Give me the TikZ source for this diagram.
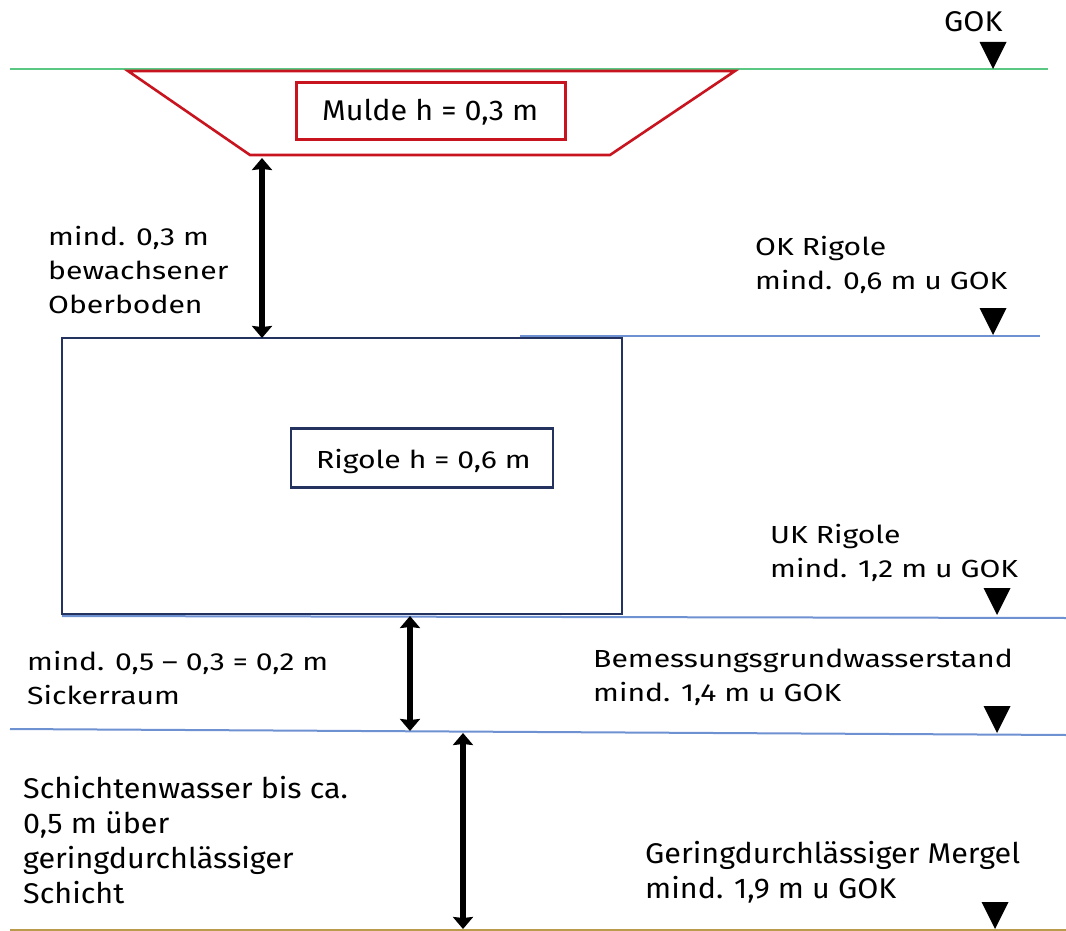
\documentclass[tikz,border=0pt]{standalone}
\usepackage{fontspec}
\setmainfont{Fira Sans}
\newfontfamily\widefnt[FakeStretch=1.22]{Fira Sans}
\newfontfamily\bigfnt[FakeStretch=1.07]{Fira Sans}
\usetikzlibrary{arrows.meta,calc}
\definecolor{gokgreen}{RGB}{90,200,130}
\definecolor{muldered}{RGB}{200,20,30}
\definecolor{lvlblue}{RGB}{110,145,210}
\definecolor{navy}{RGB}{35,50,95}
\definecolor{olive}{RGB}{185,155,75}
\tikzset{
  lbl/.style={anchor=base west,inner sep=0pt,align=left,font=\widefnt\fontsize{24.7}{34}\selectfont},
  clbl/.style={anchor=base west,inner sep=0pt,align=left,font=\bigfnt\fontsize{28.5}{35}\selectfont},
  dimarrow/.style={line width=6.5pt,{Stealth[length=12pt,width=20pt,inset=1pt]}-{Stealth[length=12pt,width=20pt,inset=1pt]}},
  lvlline/.style={lvlblue,line width=2pt},
}
\newcommand{\levelmark}[1]{\fill[black] ($(#1)+(-13.5,-27)$) -- ($(#1)+(13.5,-27)$) -- (#1) -- cycle;}
\begin{document}
\begin{tikzpicture}[x=1pt,y=-1pt]
\useasboundingbox (0,0) rectangle (1066,931);
% ground level
\coordinate (gokL) at (10,69); \coordinate (gokR) at (1048,69);
\draw[gokgreen,line width=2pt] (gokL) -- (gokR);
% Mulde trapezoid
\coordinate (m1) at (128,71); \coordinate (m2) at (735,71);
\coordinate (m3) at (610,155); \coordinate (m4) at (250,155);
\draw[muldered,line width=2.6pt,line join=miter] (m1) -- (m2) -- (m3) -- (m4) -- cycle;
\node[draw=muldered,line width=2.6pt,minimum width=269pt,minimum height=57pt,inner sep=0pt] (mulde) at (431,111) {};
\node[clbl] (muldetxt) at (322,121) {Mulde h = 0,3 m};
% GOK
\node[clbl] (gok) at (944,32) {GOK};
\coordinate (tGOK) at (993,69);
\levelmark{tGOK}
% OK Rigole
\coordinate (okL) at (520,336); \coordinate (okR) at (1040,336);
\draw[lvlline] (okL) -- (okR);
\node[lbl] (oktxt) at (755,289) {OK Rigole\\mind. 0,6 m u GOK};
\coordinate (tOK) at (993,335);
\levelmark{tOK}
% Rigole
\node[draw=navy,line width=2.4pt,minimum width=560pt,minimum height=276pt,inner sep=0pt] (rigole) at (342,476) {};
\node[draw=navy,line width=2.4pt,minimum width=262pt,minimum height=59pt,inner sep=0pt] (riglbl) at (422,458) {};
\node[lbl] (riglbltxt) at (316,468) {Rigole h = 0,6 m};
% UK Rigole
\coordinate (ukL) at (62,616); \coordinate (ukR) at (1066,618);
\draw[lvlline] (ukL) -- (ukR);
\node[lbl] (uktxt) at (770,577) {UK Rigole\\mind. 1,2 m u GOK};
\coordinate (tUK) at (997,615);
\levelmark{tUK}
% Bemessungsgrundwasserstand
\coordinate (bwL) at (10,729); \coordinate (bwR) at (1066,735);
\draw[lvlline] (bwL) -- (bwR);
\node[lbl] (bwtxt) at (593,701) {Bemessungsgrundwasserstand\\mind. 1,4 m u GOK};
\coordinate (tBW) at (997,733);
\levelmark{tBW}
% Mergel
\coordinate (mgL) at (10,930); \coordinate (mgR) at (1066,930);
\draw[olive,line width=2.2pt] (mgL) -- (mgR);
\node[clbl] (mgtxt) at (645,898) {Geringdurchlässiger Mergel\\mind. 1,9 m u GOK};
\coordinate (tMG) at (995,929);
\levelmark{tMG}
% dimension arrows
\coordinate (a1t) at (262,158); \coordinate (a1b) at (262,338);
\draw[dimarrow] (a1t) -- (a1b);
\node[lbl] (obtxt) at (48,313) {mind. 0,3 m\\bewachsener\\Oberboden};
\coordinate (a2t) at (410,616); \coordinate (a2b) at (410,731);
\draw[dimarrow] (a2t) -- (a2b);
\node[lbl] (sktxt) at (27,704) {mind. 0,5 – 0,3 = 0,2 m\\Sickerraum};
\coordinate (a3t) at (463,733); \coordinate (a3b) at (463,929);
\draw[dimarrow] (a3t) -- (a3b);
\node[clbl] (swtxt) at (23,903) {Schichtenwasser bis ca.\\0,5 m über\\geringdurchlässiger\\Schicht};
\end{tikzpicture}
\end{document}
